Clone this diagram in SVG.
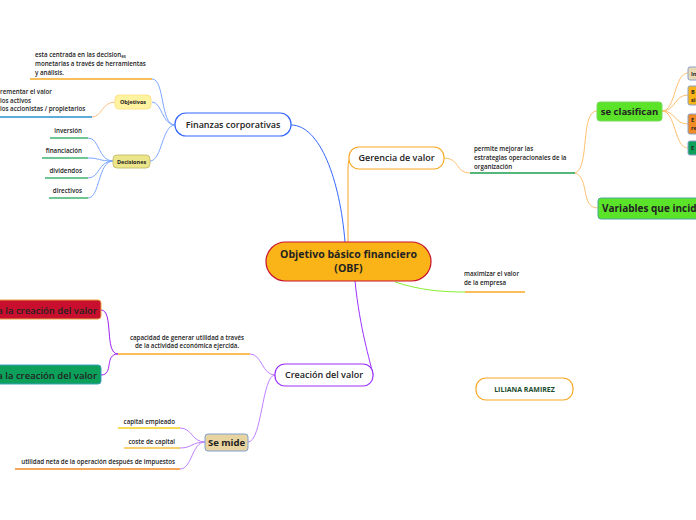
<svg xmlns="http://www.w3.org/2000/svg" width="696" height="520" viewBox="0 0 696 520">
<style>
text{font-family:"Open Sans","Liberation Sans",sans-serif;fill:#222;}
.s{font-size:6.2px;font-weight:600;}
.m{font-size:9px;font-weight:600;}
.b{font-weight:700;}
.c{fill:none;stroke-width:1;}
.ul{fill:none;stroke-width:1.6;}
</style>
<rect width="696" height="520" fill="#ffffff"/>
<g id="connectors">
  <!-- central -->
  <path class="c" d="M345,242 C340,180 320,125 291,125" stroke="#3366ff" stroke-width="1.2"/>
  <path class="c" d="M348,242 L348,170 C348,162 349,158 352,158" stroke="#f9a825" stroke-width="1.2"/>
  <path class="c" d="M355,281 C360,330 370,360 373,375" stroke="#9b30ff" stroke-width="1.2"/>
  <path class="c" d="M395,282 C420,290 440,292 465,292" stroke="#88ee33" stroke-width="1.2"/>
  <path class="ul" d="M465,292 L525,292" stroke="#f9a825"/>
  <!-- finanzas -->
  <path class="c" d="M175,125 C160,125 165,79 152,79" stroke="#7ea6ff"/>
  <path class="c" d="M175,125 C162,125 162,102 152,102" stroke="#7ea6ff"/>
  <path class="c" d="M175,125 C162,125 162,161 150,161" stroke="#7ea6ff"/>
  <path class="ul" d="M30,79 L152,79" stroke="#f9a825"/>
  <path class="c" d="M115,102 C102,102 102,117 92,117" stroke="#ffc080"/>
  <path class="ul" d="M0,117 L92,117" stroke="#2a8fd0"/>
  <path class="c" d="M113,161 C98,161 100,138 88,138" stroke="#7ea6ff"/>
  <path class="c" d="M113,161 C98,161 100,158 88,158" stroke="#7ea6ff"/>
  <path class="c" d="M113,161 C98,161 100,178 88,178" stroke="#7ea6ff"/>
  <path class="c" d="M113,161 C98,161 100,198 88,198" stroke="#7ea6ff"/>
  <path class="ul" d="M50,138 L88,138" stroke="#3cb371"/>
  <path class="ul" d="M42,158 L88,158" stroke="#3cb371"/>
  <path class="ul" d="M45,178 L88,178" stroke="#3cb371"/>
  <path class="ul" d="M49,198 L88,198" stroke="#3cb371"/>
  <!-- gerencia -->
  <path class="c" d="M444,158 C460,158 455,173 470,173" stroke="#ffc070"/>
  <path class="ul" d="M470,173 L575,173" stroke="#1a9f50"/>
  <path class="c" d="M575,173 C590,168 580,111 597,111" stroke="#ffc070"/>
  <path class="c" d="M575,173 C590,178 580,208 598,208" stroke="#ffc070"/>
  <path class="c" d="M662,111 C676,111 674,73 688,73" stroke="#ffc070"/>
  <path class="c" d="M662,111 C676,111 674,95 688,95" stroke="#ffc070"/>
  <path class="c" d="M662,111 C676,111 674,124 688,124" stroke="#ffc070"/>
  <path class="c" d="M662,111 C676,111 674,148 688,148" stroke="#ffc070"/>
  <!-- creacion -->
  <path class="c" d="M275,375 C262,375 262,354 250,354" stroke="#c080ff"/>
  <path class="ul" d="M118,354 L250,354" stroke="#f9a825"/>
  <path class="c" d="M118,354 C104,354 114,310 101,310" stroke="#a020f0"/>
  <path class="c" d="M118,354 C104,354 114,375 101,375" stroke="#a020f0"/>
  <path class="c" d="M275,375 C262,375 262,442 248,442" stroke="#c080ff"/>
  <path class="c" d="M205,442 C192,442 192,428 180,428" stroke="#c080ff"/>
  <path class="c" d="M205,442 C192,442 192,448 180,448" stroke="#c080ff"/>
  <path class="c" d="M205,442 C192,442 192,469 180,469" stroke="#c080ff"/>
  <path class="ul" d="M118,428 L180,428" stroke="#f5d020"/>
  <path class="ul" d="M124,448 L180,448" stroke="#f5c040"/>
  <path class="ul" d="M15,469 L180,469" stroke="#f08a24"/>
</g>
<g id="central">
  <rect x="266" y="242" width="165" height="39" rx="19.5" fill="#fbb418" stroke="#c8102e" stroke-width="1.2"/>
  <text x="348.5" y="258" text-anchor="middle" font-size="10.5" class="b">Objetivo básico financiero</text>
  <text x="348.5" y="272" text-anchor="middle" font-size="10.5" class="b">(OBF)</text>
</g>
<g id="finanzas">
  <rect x="175" y="113" width="116" height="23" rx="11" fill="#fff" stroke="#3366ff" stroke-width="1.2"/>
  <text x="233" y="128" text-anchor="middle" class="m">Finanzas corporativas</text>
</g>
<g id="finanzas-texto">
  <text x="35" y="57" class="s">esta centrada en las decision<tspan font-size="4.5" dy="1">es</tspan></text>
  <text x="35" y="66" class="s">monetarias a través de herramientas</text>
  <text x="35" y="75" class="s">y análisis.</text>
</g>
<g id="objetivos">
  <rect x="115" y="95" width="36" height="14" rx="4" fill="#fff3a0" stroke="#fce38a"/>
  <text x="133" y="104" text-anchor="middle" font-size="5.5" class="b">Objetivos</text>
</g>
<g id="objetivos-texto">
  <text x="0" y="94" class="s">rementar el valor</text>
  <text x="0" y="103" class="s">los activos</text>
  <text x="0" y="111" class="s">los accionistas / propietarios</text>
</g>
<g id="decisiones">
  <rect x="113" y="155" width="37" height="13" rx="4" fill="#ece68a" stroke="#c8c070"/>
  <text x="131.5" y="164" text-anchor="middle" font-size="5.5" class="b">Decisiones</text>
</g>
<g id="decisiones-hijos">
  <text x="82" y="133" text-anchor="end" class="s">inversión</text>
  <text x="82" y="153" text-anchor="end" class="s">financiación</text>
  <text x="82" y="173" text-anchor="end" class="s">dividendos</text>
  <text x="82" y="193" text-anchor="end" class="s">directivos</text>
</g>
<g id="gerencia">
  <rect x="349" y="147" width="95" height="22" rx="10" fill="#fff" stroke="#f9a825" stroke-width="1.2"/>
  <text x="396.5" y="161" text-anchor="middle" class="m" font-weight="500">Gerencia de valor</text>
</g>
<g id="gerencia-texto">
  <text x="474" y="151" class="s">permite mejorar las</text>
  <text x="474" y="160" class="s">estrategias operacionales de la</text>
  <text x="474" y="169" class="s">organización</text>
</g>
<g id="se-clasifican">
  <rect x="597" y="102" width="65" height="19" rx="3" fill="#5be32a" stroke="#7ad85a"/>
  <text x="629.5" y="115" text-anchor="middle" font-size="9.5" class="b">se clasifican</text>
</g>
<g id="variables">
  <rect x="598" y="198" width="110" height="21" rx="3" fill="#5be32a" stroke="#4aa8a0"/>
  <text x="602" y="212" font-size="10" class="b">Variables que inciden</text>
</g>
<g id="clase1">
  <rect x="688" y="67" width="20" height="13" rx="2" fill="#e8d9b5" stroke="#8aa0c8"/>
  <text x="691" y="76" font-size="5.5" class="b">In</text>
</g>
<g id="clase2">
  <rect x="688" y="86" width="20" height="19" rx="2" fill="#fbb418" stroke="#8aa0c8"/>
  <text x="691" y="94" font-size="5.5" class="b">B</text>
  <text x="691" y="102" font-size="5.5" class="b">si</text>
</g>
<g id="clase3">
  <rect x="688" y="114" width="20" height="20" rx="2" fill="#f08a24" stroke="#8aa0c8"/>
  <text x="691" y="122" font-size="5.5" class="b">E</text>
  <text x="691" y="130" font-size="5.5" class="b">re</text>
</g>
<g id="clase4">
  <rect x="688" y="141" width="20" height="14" rx="2" fill="#0da05a" stroke="#8aa0c8"/>
  <text x="691" y="150" font-size="5.5" class="b">E</text>
</g>
<g id="maximizar">
  <text x="464" y="276" class="s">maximizar el valor</text>
  <text x="464" y="285" class="s">de la empresa</text>
</g>
<g id="creacion">
  <rect x="275" y="364" width="98" height="22" rx="10" fill="#fff" stroke="#9b30ff" stroke-width="1.2"/>
  <text x="324" y="378" text-anchor="middle" class="m">Creación del valor</text>
</g>
<g id="creacion-texto">
  <text x="187" y="340" text-anchor="middle" class="s">capacidad de generar utilidad a través</text>
  <text x="187" y="348" text-anchor="middle" class="s">de la actividad económica ejercida.</text>
</g>
<g id="rojo">
  <rect x="-20" y="300" width="121" height="19" rx="3" fill="#c8102e" stroke="#e8a040"/>
  <text x="97" y="313.5" text-anchor="end" font-size="9.5" font-weight="600">a la creación del valor</text>
</g>
<g id="verde">
  <rect x="-20" y="365" width="121" height="19" rx="3" fill="#0da05a" stroke="#3ba0c0"/>
  <text x="97" y="378.5" text-anchor="end" font-size="9.5" font-weight="600">a la creación del valor</text>
</g>
<g id="se-mide">
  <rect x="205" y="434" width="43" height="17" rx="3" fill="#e8d4a0" stroke="#7ea0d0"/>
  <text x="226.5" y="446" text-anchor="middle" font-size="9.5" class="b">Se mide</text>
</g>
<g id="se-mide-hijos">
  <text x="175" y="424" text-anchor="end" class="s">capital empleado</text>
  <text x="175" y="444" text-anchor="end" class="s">coste de capital</text>
  <text x="175" y="464" text-anchor="end" class="s">utilidad neta de la operación después de impuestos</text>
</g>
<g id="liliana">
  <rect x="476" y="378" width="97" height="22" rx="10" fill="#fff" stroke="#f9a825" stroke-width="1.2"/>
  <text x="524.5" y="391.5" text-anchor="middle" font-size="7" class="b" style="fill:#1a4d2e">LILIANA RAMIREZ</text>
</g>
</svg>
